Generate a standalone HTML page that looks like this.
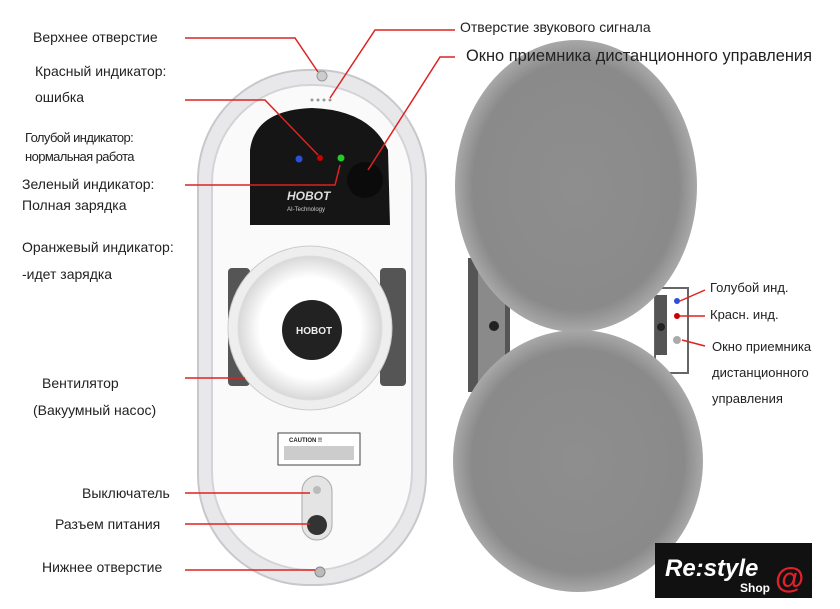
<!DOCTYPE html>
<html><head><meta charset="utf-8"><style>
html,body{margin:0;padding:0;background:#fff;}
svg{display:block;}
text{font-family:"Liberation Sans",sans-serif;fill:#222;}
</style></head><body>
<svg width="840" height="609" viewBox="0 0 840 609" xmlns="http://www.w3.org/2000/svg">
<defs>
<radialGradient id="fz" cx="50%" cy="50%" r="50%"><stop offset="0" stop-color="#8e8e8e"/><stop offset="0.85" stop-color="#8a8a8a"/><stop offset="1" stop-color="#a8a8a8"/></radialGradient>
<radialGradient id="wh" cx="50%" cy="50%" r="50%"><stop offset="0.7" stop-color="#fff"/><stop offset="1" stop-color="#d8d8d8"/></radialGradient>
</defs>
<!-- Left device -->
<rect x="198" y="70" width="228" height="515" rx="110" fill="#e8e8ea" stroke="#c8c8cc" stroke-width="2"/>
<rect x="212" y="85" width="200" height="485" rx="98" fill="#fafafa" stroke="#d4d4d8" stroke-width="2"/>
<path d="M250 225 L250 150 Q255 110 312 108 Q370 110 388 150 L390 225 Z" fill="#151515"/>
<text x="287" y="200" font-size="12" font-weight="bold" style="fill:#ddd" font-style="italic">HOBOT</text>
<text x="287" y="211" font-size="6" style="fill:#ccc">AI-Technology</text>
<circle cx="365" cy="180" r="18" fill="#0b0b0b"/>
<circle cx="299" cy="159" r="3.5" fill="#2a4fd8"/>
<circle cx="320" cy="158" r="3" fill="#c00"/>
<circle cx="341" cy="158" r="3.5" fill="#2c2"/>
<circle cx="312" cy="100" r="1.5" fill="#999"/><circle cx="318" cy="100" r="1.5" fill="#999"/><circle cx="324" cy="100" r="1.5" fill="#999"/><circle cx="330" cy="100" r="1.5" fill="#999"/>
<rect x="228" y="268" width="22" height="118" rx="4" fill="#555"/>
<rect x="380" y="268" width="26" height="118" rx="4" fill="#555"/>
<circle cx="310" cy="328" r="82" fill="#eee" stroke="#ccc"/>
<circle cx="310" cy="328" r="72" fill="url(#wh)" stroke="#ddd"/>
<circle cx="312" cy="330" r="30" fill="#222"/>
<text x="296" y="334" font-size="10" font-weight="bold" style="fill:#eee">HOBOT</text>
<rect x="278" y="433" width="82" height="32" fill="#fff" stroke="#444"/>
<text x="289" y="442" font-size="6" font-weight="bold">CAUTION !!</text>
<rect x="284" y="446" width="70" height="14" fill="#ccc"/>
<rect x="302" y="476" width="30" height="64" rx="15" fill="#e4e4e4" stroke="#aaa"/>
<circle cx="317" cy="525" r="10" fill="#333"/>
<circle cx="317" cy="490" r="4" fill="#bbb"/>
<circle cx="320" cy="572" r="5" fill="#bbb" stroke="#888"/>
<circle cx="322" cy="76" r="5" fill="#ccc" stroke="#999"/>
<!-- Right device -->
<path d="M468 258 L478 258 L510 300 L510 360 L478 392 L468 392 Z" fill="#555"/>
<path d="M478 262 L505 300 L505 360 L478 388 Z" fill="#8a8a8a"/>
<circle cx="494" cy="326" r="5" fill="#222"/>
<rect x="655" y="288" width="33" height="85" fill="#fff" stroke="#666" stroke-width="2"/>
<rect x="655" y="295" width="12" height="60" fill="#555"/>
<circle cx="661" cy="327" r="4" fill="#222"/>
<ellipse cx="576" cy="186" rx="121" ry="146" fill="url(#fz)"/>
<ellipse cx="578" cy="461" rx="125" ry="131" fill="url(#fz)"/>
<circle cx="677" cy="301" r="3" fill="#2a4fd8"/>
<circle cx="677" cy="316" r="3" fill="#c00"/>
<circle cx="677" cy="340" r="4" fill="#aaa"/>
<!-- Lines -->
<g stroke="#d22" stroke-width="1.5" fill="none">
<polyline points="185,38 295,38 318,72"/>
<polyline points="455,30 375,30 330,98"/>
<polyline points="455,57 440,57 368,170"/>
<polyline points="185,100 265,100 318,155"/>
<polyline points="185,185 335,185 340,165"/>
<line x1="185" y1="378" x2="245" y2="378"/>
<line x1="185" y1="493" x2="310" y2="493"/>
<line x1="185" y1="524" x2="310" y2="524"/>
<line x1="185" y1="570" x2="315" y2="570"/>
<line x1="680" y1="301" x2="705" y2="290"/>
<line x1="680" y1="316" x2="705" y2="316"/>
<line x1="682" y1="340" x2="705" y2="346"/>
</g>
<!-- Labels -->
<g font-size="14">
<text x="33" y="42">Верхнее отверстие</text>
<text x="460" y="32">Отверстие звукового сигнала</text>
<text x="466" y="61" font-size="17" textLength="346" lengthAdjust="spacingAndGlyphs">Окно приемника дистанционного управления</text>
<text x="35" y="76">Красный индикатор:</text>
<text x="35" y="102">ошибка</text>
<text x="25" y="142" font-size="13" letter-spacing="-0.6">Голубой индикатор:</text>
<text x="25" y="161" font-size="13" letter-spacing="-0.6">нормальная работа</text>
<text x="22" y="189">Зеленый индикатор:</text>
<text x="22" y="210">Полная зарядка</text>
<text x="22" y="252">Оранжевый индикатор:</text>
<text x="22" y="279">-идет зарядка</text>
<text x="42" y="388">Вентилятор</text>
<text x="33" y="415">(Вакуумный насос)</text>
<text x="82" y="498">Выключатель</text>
<text x="55" y="529">Разъем питания</text>
<text x="42" y="572">Нижнее отверстие</text>
<text x="710" y="292" font-size="13">Голубой инд.</text>
<text x="710" y="319" font-size="13">Красн. инд.</text>
<text x="712" y="351" font-size="13">Окно приемника</text>
<text x="712" y="377" font-size="13">дистанционного</text>
<text x="712" y="403" font-size="13">управления</text>
</g>
<!-- Logo -->
<rect x="655" y="543" width="157" height="55" fill="#111"/>
<text x="665" y="576" font-size="24" font-weight="bold" font-style="italic" style="fill:#fff">Re:style</text>
<text x="740" y="592" font-size="12" font-weight="bold" style="fill:#fff">Shop</text>
<text x="775" y="588" font-size="30" font-weight="bold" style="fill:#e2202a">@</text>
</svg>
</body></html>
